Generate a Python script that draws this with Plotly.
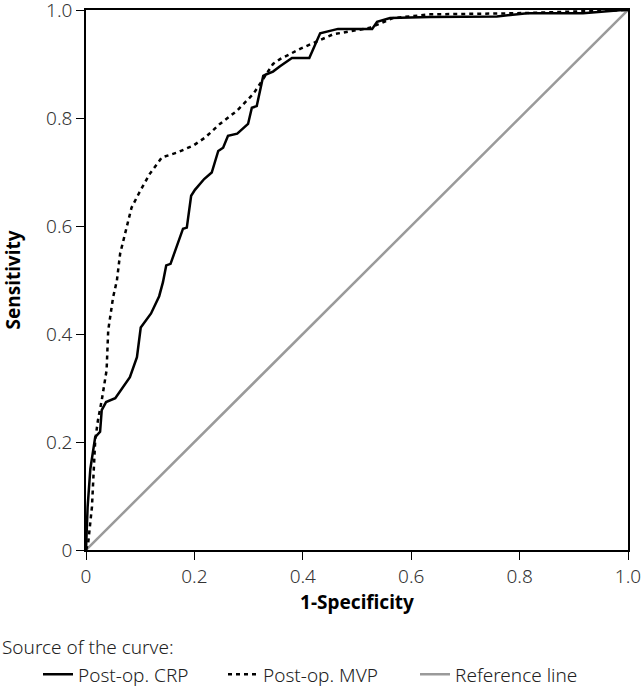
import plotly.graph_objects as go

crp_x = [0, 0.003, 0.008, 0.017, 0.026, 0.029, 0.037, 0.054, 0.081, 0.094, 0.101, 0.12, 0.135, 0.142, 0.148, 0.156,
         0.179, 0.186, 0.194, 0.201, 0.218, 0.232, 0.244, 0.253, 0.262, 0.279, 0.299, 0.306, 0.315, 0.327, 0.333,
         0.345, 0.358, 0.380, 0.412, 0.432, 0.465, 0.528, 0.537, 0.561, 0.635, 0.758, 0.814, 0.917, 0.99, 1.0]
crp_y = [0, 0.08, 0.15, 0.209, 0.219, 0.259, 0.274, 0.281, 0.32, 0.357, 0.412, 0.438, 0.47, 0.496, 0.527, 0.53,
         0.595, 0.597, 0.656, 0.667, 0.687, 0.699, 0.739, 0.745, 0.767, 0.771, 0.789, 0.819, 0.822, 0.878, 0.881,
         0.886, 0.896, 0.911, 0.911, 0.957, 0.965, 0.965, 0.978, 0.985, 0.987, 0.988, 0.994, 0.994, 1.0, 1.0]

mvp_x = [0, 0.004, 0.011, 0.013, 0.017, 0.022, 0.029, 0.038, 0.041, 0.05, 0.057, 0.063, 0.075, 0.084, 0.1, 0.118,
         0.14, 0.168, 0.198, 0.22, 0.247, 0.278, 0.309, 0.33, 0.345, 0.358, 0.395, 0.456, 0.524, 0.566, 0.635,
         0.795, 0.917, 1.0]
mvp_y = [0, 0.013, 0.08, 0.129, 0.203, 0.24, 0.277, 0.333, 0.407, 0.468, 0.499, 0.549, 0.597, 0.634, 0.665, 0.697,
         0.727, 0.736, 0.749, 0.764, 0.789, 0.813, 0.845, 0.878, 0.9, 0.909, 0.928, 0.955, 0.967, 0.985, 0.992,
         0.994, 0.998, 1.0]

ref_x = [0, 1]
ref_y = [0, 1]

x_ticks = [0, 0.2, 0.4, 0.6, 0.8, 1.0]
x_tick_labels = ["0", "0.2", "0.4", "0.6", "0.8", "1.0"]
y_ticks = [0, 0.2, 0.4, 0.6, 0.8, 1.0]
y_tick_labels = ["0", "0.2", "0.4", "0.6", "0.8", "1.0"]

FONT = "Noto Sans"
FS = 19
PLOT_W = 542

fig = go.Figure()
fig.add_trace(go.Scatter(x=ref_x, y=ref_y, mode="lines", name="Reference line",
                         line=dict(color="#9a9a9a", width=2.5), legend="legend3"))
fig.add_trace(go.Scatter(x=crp_x, y=crp_y, mode="lines", name="Post-op. CRP",
                         line=dict(color="black", width=2.5), legend="legend"))
fig.add_trace(go.Scatter(x=mvp_x, y=mvp_y, mode="lines", name="Post-op. MVP",
                         line=dict(color="black", width=2.5, dash="4px,4px"), legend="legend2"))

axis_common = dict(
    showline=True, linecolor="black", linewidth=1.5, mirror=True,
    ticks="outside", ticklen=8, tickcolor="black", tickwidth=1.2,
    showgrid=False, zeroline=False, automargin=False, ticklabeloverflow="allow",
    tickfont=dict(family=FONT, size=FS, color="#333", weight=300),
)

def leg(px):
    return dict(orientation="h", x=(px - 86) / PLOT_W, xanchor="left", y=-0.195, yanchor="top",
                font=dict(family=FONT, size=FS, color="#222", weight=300),
                itemwidth=30, bgcolor="rgba(0,0,0,0)")

fig.update_layout(
    width=642, height=690,
    margin=dict(l=86, r=14, t=10, b=140, autoexpand=False),
    paper_bgcolor="white", plot_bgcolor="white",
    font=dict(family=FONT, color="#222"),
    xaxis=dict(range=[0, 1], tickvals=x_ticks, ticktext=x_tick_labels,
               title=dict(text="<b>1-Specificity</b>", font=dict(family=FONT, size=FS, color="black"), standoff=8),
               **axis_common),
    yaxis=dict(range=[0, 1], tickvals=y_ticks, ticktext=y_tick_labels,
               title=dict(text="<b>Sensitivity</b>", font=dict(family=FONT, size=FS, color="black"), standoff=24),
               **axis_common),
    showlegend=True,
    legend=leg(38),
    legend2=leg(223),
    legend3=leg(415),
    annotations=[dict(text="Source of the curve:", x=-86 / PLOT_W, xref="paper", xanchor="left",
                      y=-0.18, yref="paper", yanchor="middle", showarrow=False,
                      font=dict(family=FONT, size=FS, color="#222", weight=300))],
)

fig.write_html("out.html", config={"displayModeBar": False},
               post_script="document.body.style.margin='0';")
